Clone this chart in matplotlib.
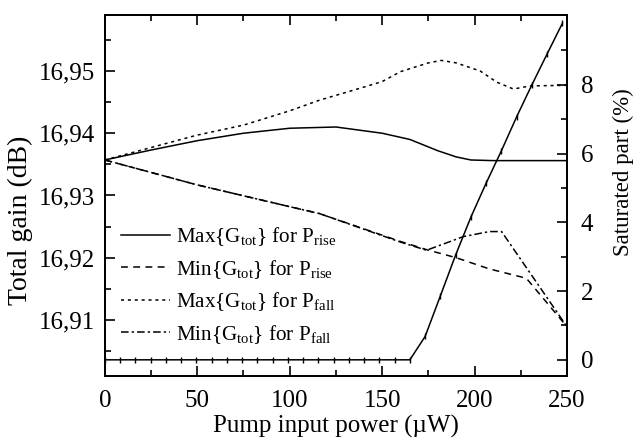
import matplotlib
matplotlib.use('Agg')
import matplotlib.pyplot as plt
from matplotlib.ticker import MultipleLocator, FixedLocator, FuncFormatter

plt.rcParams['font.family'] = ['Liberation Serif', 'DejaVu Serif']
plt.rcParams['mathtext.fontset'] = 'custom'
plt.rcParams['mathtext.rm'] = 'Liberation Serif'
plt.rcParams['mathtext.it'] = 'Liberation Serif:italic'

# Gesamtverstärkung (dB) über Pumpleistung (µW)
x_max_rise = [0, 25, 50, 75, 100, 125, 150, 165, 180, 190, 198, 210, 250]
g_max_rise = [16.9357, 16.9373, 16.9388, 16.9400, 16.9408, 16.9410, 16.9400,
              16.9390, 16.9372, 16.9362, 16.9357, 16.9356, 16.9356]

x_min_rise = [0, 50, 100, 116, 160, 174, 190, 208, 228, 250]
g_min_rise = [16.9357, 16.9317, 16.9282, 16.9271, 16.9226, 16.9213, 16.9200,
              16.9182, 16.9167, 16.9089]

x_max_fall = [0, 25, 50, 75, 100, 116, 140, 150, 160, 175, 182, 190, 203, 212,
              221, 230, 250]
g_max_fall = [16.9357, 16.9377, 16.9397, 16.9413, 16.9436, 16.9453, 16.9474,
              16.9483, 16.9499, 16.9513, 16.9517, 16.9513, 16.9500, 16.9482,
              16.9471, 16.9476, 16.9477]

x_min_fall = [0, 50, 100, 116, 160, 174, 194, 208, 214.6, 250]
g_min_fall = [16.9357, 16.9317, 16.9282, 16.9271, 16.9225, 16.9212, 16.9234,
              16.9242, 16.9242, 16.9089]

# Gesättigter Anteil (%)
x_sat = [0, 8.25, 16.5, 24.75, 33, 41.25, 49.5, 57.75, 66, 74.25, 82.5, 90.75,
         99, 107.25, 115.5, 123.75, 132, 140.25, 148.5, 156.75, 165,
         173.25, 181.5, 189.75, 198, 206.25, 214.5, 222.75, 231, 239.25, 247.5]
sat = [0] * 21 + [0.68, 1.86, 3.05, 4.15, 5.14, 6.08, 7.07, 8.0, 8.9, 9.79]

fig = plt.figure(figsize=(6.35, 4.4), dpi=100)
ax1 = fig.add_axes([0.165, 0.1455, 0.728, 0.8205])
lw = 1.1

ax1.plot(x_max_rise, g_max_rise, color='black', lw=lw, ls='-',
         label=r'Max{G$_{\mathrm{tot}}$} for P$_{\mathrm{rise}}$')
ax1.plot(x_min_rise, g_min_rise, color='black', lw=lw, ls=(0, (4.5, 3.5)),
         label=r'Min{G$_{\mathrm{tot}}$} for P$_{\mathrm{rise}}$')
ax1.plot(x_max_fall, g_max_fall, color='black', lw=lw, ls=(0, (2, 2.5)),
         label=r'Max{G$_{\mathrm{tot}}$} for P$_{\mathrm{fall}}$')
ax1.plot(x_min_fall, g_min_fall, color='black', lw=lw, ls=(0, (5, 2, 1.5, 2)),
         label=r'Min{G$_{\mathrm{tot}}$} for P$_{\mathrm{fall}}$')

ax1.set_xlim(0, 250)
ax1.set_ylim(16.901, 16.959)
ax1.xaxis.set_major_locator(MultipleLocator(50))
ax1.xaxis.set_minor_locator(MultipleLocator(25))
ax1.yaxis.set_major_locator(MultipleLocator(0.01))
ax1.yaxis.set_minor_locator(MultipleLocator(0.005))
ax1.yaxis.set_major_formatter(FuncFormatter(lambda v, p: f'{v:.2f}'.replace('.', ',')))
ax1.tick_params(which='both', direction='in', top=True, labelsize=18, width=1.2)
ax1.tick_params(which='major', length=7)
ax1.tick_params(which='minor', length=4)
ax1.tick_params(axis='x', pad=10)
ax1.tick_params(axis='y', pad=7)
ax1.set_xlabel('Pump input power (µW)', fontsize=18, labelpad=2)
ax1.set_ylabel('Total gain (dB)', fontsize=20)
ax1.yaxis.set_label_coords(-0.156, 0.432)

ax2 = ax1.twinx()
ax2.plot(x_sat, sat, color='black', lw=lw, marker='|', ms=4, mew=1)
ax2.set_ylim(-0.47, 10.03)
ax2.yaxis.set_major_locator(FixedLocator([0, 2, 4, 6, 8]))
ax2.yaxis.set_minor_locator(FixedLocator([1, 3, 5, 7, 9]))
ax2.tick_params(which='both', direction='in', labelsize=18, width=1.2)
ax2.tick_params(which='major', length=7, pad=10)
ax2.tick_params(which='minor', length=4)
ax2.set_ylabel('Saturated part (%)', fontsize=16.5)
ax2.yaxis.set_label_coords(1.10, 0.565)

for a in (ax1, ax2):
    for s in a.spines.values():
        s.set_linewidth(1.4)

ax1.legend(loc='center left', bbox_to_anchor=(0.035, 0.251), frameon=False,
           fontsize=15.2, handlelength=2.3, handletextpad=0.3, labelspacing=0.46,
           borderpad=0, borderaxespad=0)

fig.savefig('out.png', dpi=100)
